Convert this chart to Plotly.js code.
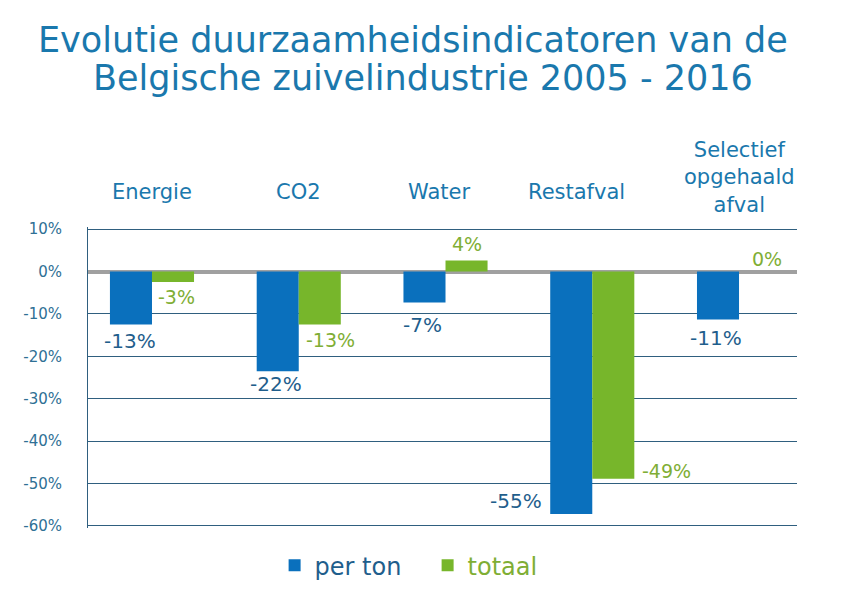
<!DOCTYPE html>
<html>
<head>
<meta charset="utf-8">
<script src="https://cdn.plot.ly/plotly-3.0.1.min.js"></script>
<style>html,body{margin:0;padding:0;background:#fff;}#chart{width:850px;height:599px;}</style>
</head>
<body>
<div id="chart"></div>
<script>
// ---- data ----
const categories = ['Energie', 'CO2', 'Water', 'Restafval', 'Selectief opgehaald afval'];
const categoryLabels = ['Energie', 'CO2', 'Water', 'Restafval', 'Selectief<br>opgehaald<br>afval'];
const perTon = [-12.5, -23.5, -7.3, -57.2, -11.3];
const totaal = [-2.5, -12.5, 2.6, -48.9, 0];
const perTonLabels = ['-13%', '-22%', '-7%', '-55%', '-11%'];
const totaalLabels = ['-3%', '-13%', '4%', '-49%', '0%'];
const yTicks = [10, 0, -10, -20, -30, -40, -50, -60];
const titleLines = ['Evolutie duurzaamheidsindicatoren van de', 'Belgische zuivelindustrie 2005 - 2016'];

// ---- style ----
const FONT = '"DejaVu Sans", Verdana, sans-serif';
const BLUE = '#0a70bd';
const GREEN = '#77b62b';
const BLUE_TXT = '#1f5e8c';
const GREEN_TXT = '#7fae35';
const TITLE_C = '#1a78ad';
const GRID = '#2f5f7f';

// label offsets (px) relative to bar tip: [dx, dy]
const perTonOff = [[-1, -16], [-2, -13], [-2, -23], [-55, 13], [-2, -19]];
const totaalOff = [[4, -15], [11, -15], [0, 16], [53, 8], [7, 13]];
const catShift = [[0, 22], [0, 22], [-7, 22], [-16, 22], [0, 9]];
const titlePos = [[0.458, 187], [0.473, 149]];
const BAR_HALF = 21;

const traces = [
  {type: 'bar', name: '<span style="color:' + BLUE_TXT + '">per ton</span>', x: categories, y: perTon,
   marker: {color: BLUE}, hoverinfo: 'skip'},
  {type: 'bar', name: '<span style="color:' + GREEN_TXT + '">totaal</span>', x: categories, y: totaal,
   marker: {color: GREEN}, hoverinfo: 'skip'}
];

const annotations = [];
titleLines.forEach((t, i) => {
  annotations.push({x: titlePos[i][0], xref: 'paper', y: 1, yref: 'paper', yshift: titlePos[i][1],
    text: t, showarrow: false, xanchor: 'center', yanchor: 'middle',
    font: {family: FONT, size: 35, color: TITLE_C}});
});
categories.forEach((c, i) => {
  annotations.push({x: c, xref: 'x', y: perTon[i], yref: 'y', text: perTonLabels[i], showarrow: false,
    xshift: -BAR_HALF + perTonOff[i][0], yshift: perTonOff[i][1], xanchor: 'center', yanchor: 'middle',
    font: {family: FONT, size: 20, color: BLUE_TXT}});
  annotations.push({x: c, xref: 'x', y: totaal[i], yref: 'y', text: totaalLabels[i], showarrow: false,
    xshift: BAR_HALF + totaalOff[i][0], yshift: totaalOff[i][1], xanchor: 'center', yanchor: 'middle',
    font: {family: FONT, size: 19, color: GREEN_TXT}});
  annotations.push({x: c, xref: 'x', y: 1, yref: 'paper', text: categoryLabels[i], showarrow: false,
    xshift: catShift[i][0], yshift: catShift[i][1] - 1, xanchor: 'center', yanchor: 'bottom', align: 'center',
    font: {family: FONT, size: 21, color: TITLE_C}});
});

const layout = {
  width: 850, height: 599,
  margin: {l: 88, r: 53, t: 227, b: 71, autoexpand: false},
  paper_bgcolor: '#ffffff', plot_bgcolor: '#ffffff',
  font: {family: FONT},
  barmode: 'group', bargap: 0.427, bargroupgap: 0,
  xaxis: {type: 'category', range: [-0.436, 4.395], showticklabels: false, ticks: '',
    showgrid: false, zeroline: false, showline: false, fixedrange: true},
  yaxis: {range: [-60.5, 10.5], tickvals: yTicks, ticktext: yTicks.map(v => v + '%'),
    showgrid: true, gridcolor: GRID, gridwidth: 1,
    zeroline: true, zerolinecolor: '#a0a0a0', zerolinewidth: 4,
    showline: true, linecolor: GRID, linewidth: 1, ticks: '', ticklabelstandoff: 22,
    tickfont: {family: FONT, size: 15, color: '#2f7095'}},
  showlegend: true,
  legend: {orientation: 'h', x: 0.479, xanchor: 'center', y: -0.05, yanchor: 'top',
    font: {family: FONT, size: 24}, itemwidth: 30, entrywidth: 108, entrywidthmode: 'pixels',
    traceorder: 'normal'},
  annotations: annotations
};

Plotly.newPlot('chart', traces, layout, {displayModeBar: false, staticPlot: true});
</script>
</body>
</html>
